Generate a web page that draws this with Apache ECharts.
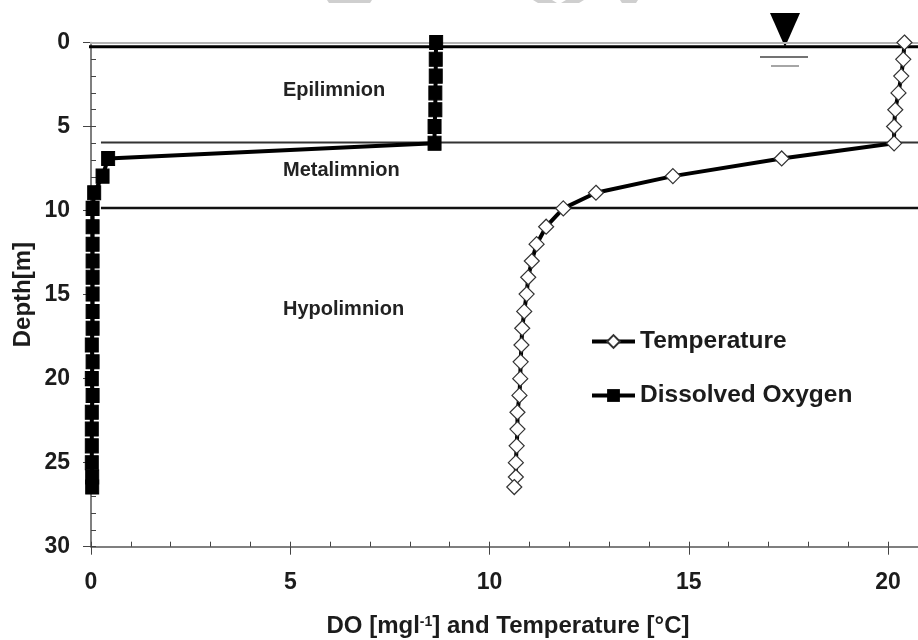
<!DOCTYPE html>
<html><head><meta charset="utf-8">
<style>html,body{margin:0;padding:0;background:#fff}#c{width:918px;height:640px}</style>
<script src="https://cdn.jsdelivr.net/npm/echarts@6/dist/echarts.min.js"></script>
</head><body><div id="c"></div>
<script>
const depth = [0,1,2,3,4,5,6,6.9,7.95,8.94,9.87,10.96,12,13,13.97,14.97,16,17,18,19,20,21,22,23,24,25,25.85,26.45];
const temperature = [20.41,20.38,20.33,20.26,20.18,20.15,20.15,17.33,14.6,12.67,11.85,11.42,11.18,11.06,10.97,10.93,10.87,10.82,10.8,10.78,10.77,10.75,10.7,10.7,10.68,10.66,10.66,10.62];
const dissolvedOxygen = [8.66,8.65,8.65,8.64,8.64,8.62,8.62,0.43,0.29,0.08,0.04,0.04,0.04,0.04,0.04,0.04,0.04,0.04,0.02,0.04,0.02,0.04,0.02,0.02,0.02,0.02,0.03,0.03];
const xTicks = [0,5,10,15,20];
const yTicks = [0,5,10,15,20,25,30];
const layerLines = [{d:0.25,from:-0.07,w:3,c:'#000'},{d:5.95,from:0.25,w:2,c:'#333'},{d:9.85,from:0.25,w:2.4,c:'#111'}];
const surfaceLine = {d:0.03,from:-0.07,w:2,c:'#b4b4b4'};
const layerNames = [{t:'Epilimnion',x:283,y:90},{t:'Metalimnion',x:283,y:170},{t:'Hypolimnion',x:283,y:309}];

const toPairs = (xs) => xs.map((x,i)=>[x,depth[i]]);
const XMAX = 20.75;
const lblColor = '#1c1c1c';
const font = 'Liberation Sans';
const lineSeries = (l)=>({type:'line',silent:true,symbol:'none',clip:false,z:1,legendHoverLink:false,
  data:[[l.from,l.d],[XMAX,l.d]],lineStyle:{color:l.c,width:l.w},animation:false});
const gridBox = {left:91,top:42.5,right:0,bottom:93.3,outerBoundsMode:'none'};
const minorTick = {inside:true,length:5,lineStyle:{color:'#444',width:1}};

const chart = echarts.init(document.getElementById('c'),null,{renderer:'canvas'});
chart.setOption({
  animation:false,
  backgroundColor:'#fff',
  textStyle:{fontFamily:font},
  grid:[gridBox,gridBox],
  legend:{
    orient:'vertical',left:585,top:324,itemGap:29,itemWidth:43,itemHeight:16,
    lineStyle:{width:4},
    textStyle:{fontFamily:font,fontSize:24.5,fontWeight:'bold',color:lblColor},
    data:['Temperature','Dissolved Oxygen']
  },
  xAxis:[{
    type:'value',gridIndex:0,min:0,max:XMAX,interval:5,
    axisLine:{onZero:false,lineStyle:{color:'#555',width:1.5}},
    axisTick:{length:8,lineStyle:{color:'#444',width:1}},
    splitLine:{show:false},
    axisLabel:{margin:24,fontSize:23,fontWeight:'bold',color:lblColor,showMaxLabel:false,
      formatter:(v)=>xTicks.includes(v)?String(v):''},
    name:'{a|DO [mgl}{s|-1}{a|] and Temperature [°C]}',nameLocation:'middle',nameGap:68,
    nameTextStyle:{padding:[0,0,0,7],rich:{a:{fontFamily:font,fontSize:24,fontWeight:'bold',color:lblColor},
      s:{fontFamily:font,fontSize:14,fontWeight:'bold',color:lblColor,padding:[0,0,10,0]}}}
  },{
    type:'value',gridIndex:1,min:0,max:XMAX,interval:1,position:'bottom',
    axisLine:{show:false,onZero:false},axisLabel:{show:false},splitLine:{show:false},
    axisTick:minorTick
  }],
  yAxis:[{
    type:'value',gridIndex:0,inverse:true,min:0,max:30,interval:5,
    axisLine:{onZero:false,lineStyle:{color:'#555',width:1.5}},
    axisTick:{length:8,lineStyle:{color:'#444',width:1}},
    splitLine:{show:false},
    axisLabel:{margin:21,fontSize:23,fontWeight:'bold',color:lblColor,
      formatter:(v)=>yTicks.includes(v)?String(v):''},
    name:'Depth[m]',nameLocation:'middle',nameGap:56,nameRotate:90,nameMoveOverlap:false,
    nameTextStyle:{fontFamily:font,fontSize:24,fontWeight:'bold',color:lblColor}
  },{
    type:'value',gridIndex:1,inverse:true,min:0,max:30,interval:1,position:'left',
    axisLine:{show:false,onZero:false},axisLabel:{show:false},splitLine:{show:false},
    axisTick:minorTick
  }],
  series:[
    lineSeries(surfaceLine),
    ...layerLines.map(lineSeries),
    {name:'Temperature',type:'line',data:toPairs(temperature),z:3,clip:false,
      symbol:'diamond',symbolSize:[15,15],showAllSymbol:true,
      itemStyle:{color:'#fff',borderColor:'#333',borderWidth:1.2},
      lineStyle:{color:'#000',width:4}},
    {name:'Dissolved Oxygen',type:'line',data:toPairs(dissolvedOxygen),z:4,clip:false,
      symbol:'rect',symbolSize:[13,14],showAllSymbol:true,
      itemStyle:{color:'#000',borderColor:'#000'},
      lineStyle:{color:'#000',width:4}}
  ],
  graphic:[
    ...layerNames.map(n=>({type:'text',x:n.x,y:n.y,style:{text:n.t,fill:'#222',font:'bold 20px "Liberation Sans"',textVerticalAlign:'middle'}})),
    {type:'polygon',shape:{points:[[770,13],[800,13],[785,47]]},style:{fill:'#000'}},
    {type:'line',shape:{x1:760,y1:57,x2:808,y2:57},style:{stroke:'#444',lineWidth:1.5}},
    {type:'line',shape:{x1:771,y1:66,x2:799,y2:66},style:{stroke:'#888',lineWidth:1.5}},
    {type:'polygon',shape:{points:[[327,0],[372,0],[370,3],[329,3]]},style:{fill:'#cfcfcf'}},
    {type:'polygon',shape:{points:[[533,0],[552,0],[557,3],[538,3]]},style:{fill:'#cfcfcf'}},
    {type:'polygon',shape:{points:[[566,0],[584,0],[579,3],[561,3]]},style:{fill:'#cfcfcf'}},
    {type:'polygon',shape:{points:[[620,0],[638,0],[636,3],[622,3]]},style:{fill:'#cfcfcf'}}
  ]
});
</script></body></html>
